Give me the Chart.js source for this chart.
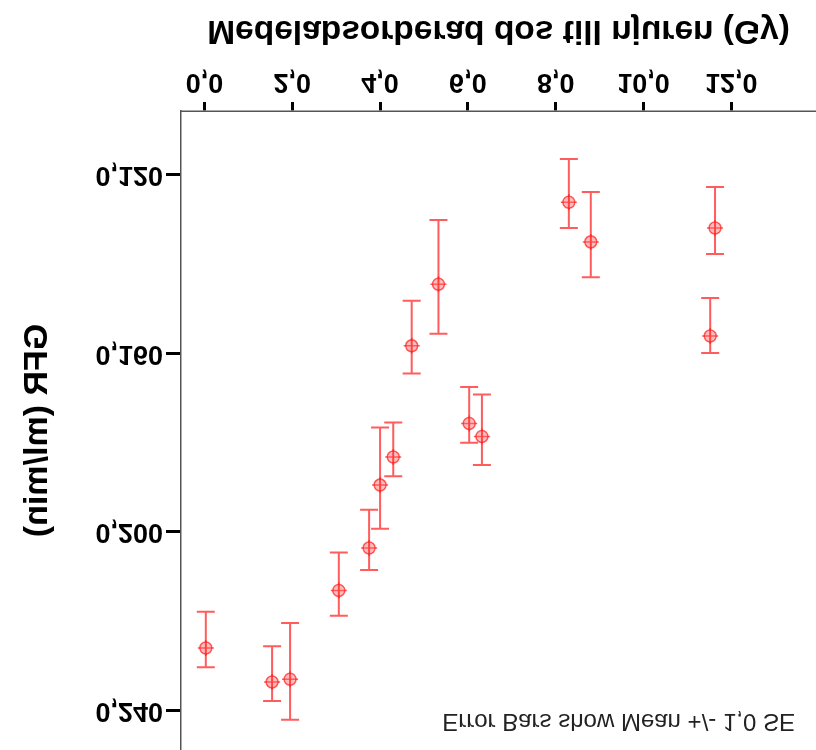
<!DOCTYPE html>
<html>
<head>
<meta charset="utf-8">
<script src="https://cdn.jsdelivr.net/npm/chart.js@4/dist/chart.umd.min.js"></script>
<style>
  html, body { margin: 0; padding: 0; background: #fff; overflow: hidden; }
  #wrap { width: 816px; height: 750px; transform: scaleY(-1); }
</style>
</head>
<body>
<div id="wrap"><canvas id="gfrChart" width="816" height="750"></canvas></div>
<script>
// Medelabsorberad dos (Gy) per grupp
const dose = [0.03, 1.54, 1.95, 3.06, 3.75, 4.00, 4.30, 4.72, 5.33, 6.03, 6.32, 8.30, 8.80, 11.52, 11.63];
// GFR medelvärde
const gfrMean = [0.2261, 0.2337, 0.2331, 0.2132, 0.2037, 0.1896, 0.1833, 0.1584, 0.1446, 0.1758, 0.1787, 0.1262, 0.1351, 0.1562, 0.1320];
// felstaplarnas ändar (Mean +/- 1,0 SE)
const gfrLow = [0.2180, 0.2257, 0.2205, 0.2047, 0.1951, 0.1767, 0.1756, 0.1483, 0.1302, 0.1676, 0.1693, 0.1165, 0.1239, 0.1477, 0.1228];
const gfrHigh = [0.2304, 0.2380, 0.2422, 0.2189, 0.2086, 0.1994, 0.1876, 0.1646, 0.1557, 0.1801, 0.1851, 0.1320, 0.1430, 0.1600, 0.1378];

const xTicks = [0, 2, 4, 6, 8, 10, 12];
const yTicks = [0.12, 0.16, 0.20, 0.24];

const xTitle = 'Medelabsorberad dos till njuren (Gy)';
const yTitle = 'GFR (ml/min)';
const note = 'Error Bars show Mean +/- 1,0 SE';

const FONT = "'Liberation Sans', Arial, sans-serif";
const RED = 'rgba(255, 30, 30, 0.72)';

const points = dose.map((d, i) => ({ x: d, y: gfrMean[i] }));

// felstaplar ritas via skalorna
const errorBars = {
    id: 'errorBars',
    beforeDatasetsDraw(chart) {
        const { ctx, scales: { x, y } } = chart;
        ctx.save();
        ctx.strokeStyle = RED;
        ctx.lineWidth = 2;
        dose.forEach((d, i) => {
            const px = x.getPixelForValue(d);
            const y1 = y.getPixelForValue(gfrLow[i]);
            const y2 = y.getPixelForValue(gfrHigh[i]);
            ctx.beginPath();
            ctx.moveTo(px, y1); ctx.lineTo(px, y2);
            ctx.moveTo(px - 9, y1); ctx.lineTo(px + 9, y1);
            ctx.moveTo(px - 9, y2); ctx.lineTo(px + 9, y2);
            ctx.stroke();
        });
        ctx.restore();
    },
    afterDraw(chart) {
        const { ctx } = chart;
        ctx.save();
        ctx.font = '24px ' + FONT;
        ctx.fillStyle = '#222';
        ctx.textAlign = 'right';
        ctx.textBaseline = 'alphabetic';
        ctx.fillText(note, 795, 36);
        ctx.restore();
    }
};

new Chart(document.getElementById('gfrChart'), {
    type: 'scatter',
    data: {
        datasets: [{
            data: points,
            pointStyle: 'circle',
            pointRadius: 6,
            pointBackgroundColor: 'rgba(255, 90, 90, 0.4)',
            pointBorderColor: RED,
            pointBorderWidth: 1.5
        }, {
            data: points,
            pointStyle: 'cross',
            pointRadius: 8,
            pointBorderColor: RED,
            pointBorderWidth: 1.5
        }]
    },
    options: {
        responsive: false,
        animation: false,
        layout: { padding: 0, autoPadding: false },
        plugins: { legend: { display: false }, tooltip: { enabled: false } },
        scales: {
            x: {
                type: 'linear',
                position: 'bottom',
                min: -0.535,
                max: 13.93,
                afterBuildTicks: (scale) => { scale.ticks = xTicks.map(v => ({ value: v })); },
                afterFit: (scale) => { scale.height = 111; scale.paddingLeft = 0; scale.paddingRight = 0; },
                ticks: {
                    color: '#000',
                    padding: 4,
                    maxRotation: 0,
                    font: { family: FONT, size: 27, weight: 'bold' },
                    callback: (v) => v.toFixed(1).replace('.', ',')
                },
                grid: { drawOnChartArea: false, tickLength: 9, tickWidth: 3, tickColor: '#000' },
                border: { color: '#555', width: 1.5 },
                title: {
                    display: true,
                    text: xTitle,
                    color: '#000',
                    font: { family: FONT, size: 33.5, weight: 'bold' },
                    padding: { top: 0, bottom: 10 }
                }
            },
            y: {
                type: 'linear',
                min: 0.10577,
                max: 0.24896,
                afterBuildTicks: (scale) => { scale.ticks = yTicks.map(v => ({ value: v })); },
                afterFit: (scale) => { scale.width = 181; scale.paddingTop = 0; scale.paddingBottom = 0; },
                ticks: {
                    color: '#000',
                    padding: 3,
                    font: { family: FONT, size: 27, weight: 'bold' },
                    callback: (v) => v.toFixed(3).replace('.', ',')
                },
                grid: { drawOnChartArea: false, tickLength: 15, tickWidth: 3, tickColor: '#000' },
                border: { color: '#555', width: 1.5 },
                title: {
                    display: true,
                    text: yTitle,
                    color: '#000',
                    font: { family: FONT, size: 34, weight: 'bold' },
                    padding: { top: 17, bottom: 0 }
                }
            }
        }
    },
    plugins: [errorBars]
});
</script>
</body>
</html>
